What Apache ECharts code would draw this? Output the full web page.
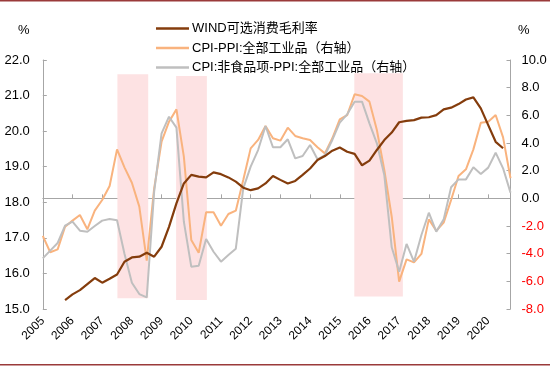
<!DOCTYPE html>
<html><head><meta charset="utf-8">
<script src="https://cdn.jsdelivr.net/npm/echarts@6/dist/echarts.min.js"></script>
<style>html,body{margin:0;padding:0;background:#fff}#c{width:550px;height:366px}</style>
</head><body><div id="c"></div>
<script>
// Quarterly categories 2005Q1 .. 2020Q4
const years = ['2005','2006','2007','2008','2009','2010','2011','2012','2013','2014','2015','2016','2017','2018','2019','2020'];
const quarters = ['Q1','Q2','Q3','Q4'];
const categories = [];
years.forEach(y => quarters.forEach(q => categories.push(y + q)));

// WIND可选消费毛利率 (left axis, %)
const grossMargin = [null,null,null,15.25,15.41,15.53,15.70,15.87,15.74,15.85,15.97,16.33,16.45,16.47,16.58,16.47,
  16.75,17.31,17.97,18.53,18.77,18.72,18.70,18.84,18.79,18.70,18.58,18.41,18.34,18.39,18.53,18.74,
  18.63,18.53,18.60,18.77,18.95,19.19,19.30,19.45,19.54,19.42,19.36,19.04,19.17,19.47,19.75,19.96,
  20.25,20.29,20.31,20.38,20.39,20.45,20.61,20.66,20.76,20.89,20.95,20.64,20.17,19.70,19.52,null];

// CPI-PPI:全部工业品 (right axis)
const cpiPpi = [-2.72,-3.90,-3.69,-2.05,-1.61,-1.20,-2.24,-0.89,-0.12,0.89,3.54,2.24,1.13,-0.60,-4.51,0.72,
  4.10,5.54,6.43,3.01,-3.01,-3.93,-1.01,-1.01,-1.98,-1.13,-0.89,1.33,3.61,4.22,5.23,4.34,
  4.17,5.11,4.51,4.34,4.22,3.69,3.25,4.34,5.71,6.02,7.52,7.40,6.99,4.94,2.05,-1.33,
  -6.02,-4.41,-4.63,-4.02,-1.52,-2.34,-1.76,-0.12,1.61,2.10,3.54,5.47,5.54,6.02,4.41,1.45];

// CPI:非食品项-PPI:全部工业品 (right axis)
const cpiNonFoodPpi = [-4.34,-3.78,-3.23,-1.98,-1.69,-2.34,-2.41,-2.00,-1.61,-1.49,-1.59,-4.00,-6.10,-6.92,-7.16,0.48,
  4.70,5.90,5.11,-1.69,-4.94,-4.87,-2.94,-3.86,-4.58,-4.10,-3.64,0.72,2.29,3.49,5.23,3.69,
  3.69,4.27,2.89,3.06,3.86,2.82,3.13,4.22,5.47,6.07,6.99,6.99,5.42,3.98,1.69,-3.54,
  -5.30,-3.30,-4.58,-2.65,-1.04,-2.41,-1.52,0.80,1.37,1.37,2.24,1.76,2.22,3.30,2.17,0.41];

// shaded periods: [start, end] in quarter-index units, top/bottom on left axis
const bands = [[10.05, 14.2, 21.6, 15.3], [17.96, 22.1, 21.55, 15.25], [41.96, 48.5, 21.63, 15.35]];

const leftTicks = {min: 15, max: 22, interval: 1};
const rightTicks = {min: -8, max: 10, interval: 2};

const names = ['WIND可选消费毛利率', 'CPI-PPI:全部工业品（右轴）', 'CPI:非食品项-PPI:全部工业品（右轴）'];
const font = 'Liberation Sans, Arial, Noto Sans CJK SC, sans-serif';
const axisCol = '#A6A6A6';

const chart = echarts.init(document.getElementById('c'), null, {renderer: 'canvas'});
chart.setOption({
  animation: false,
  textStyle: {fontFamily: font},
  grid: {left: 42.8, right: 39.5, top: 60, bottom: 57},
  legend: {
    data: names, orient: 'vertical', left: 151, top: 17,
    itemWidth: 33, itemHeight: 2.5, itemGap: 6.5, icon: 'rect',
    textStyle: {fontSize: 13, color: '#000', fontFamily: font, padding: [0,0,0,-2]}
  },
  xAxis: [{
    type: 'category', data: categories, boundaryGap: false,
    axisLine: {lineStyle: {color: axisCol, width: 1}},
    axisTick: {inside: true, length: 4, interval: 3, lineStyle: {color: axisCol}},
    axisLabel: {interval: 3, rotate: 45, fontSize: 12, color: '#000', margin: 10,
      formatter: v => v.slice(0, 4)},
    splitLine: {show: false}
  }, {
    type: 'value', min: 0, max: categories.length - 1, show: false
  }],
  yAxis: [{
    type: 'value', min: leftTicks.min, max: leftTicks.max, interval: leftTicks.interval,
    axisLine: {show: true, lineStyle: {color: axisCol}},
    axisTick: {show: true, inside: true, length: 4, lineStyle: {color: axisCol}},
    axisLabel: {fontSize: 13, color: '#000', margin: 13, formatter: v => v.toFixed(1)},
    splitLine: {show: false}
  }, {
    type: 'value', min: rightTicks.min, max: rightTicks.max, interval: rightTicks.interval,
    position: 'right',
    axisLine: {show: true, lineStyle: {color: axisCol}},
    axisTick: {show: true, inside: true, length: 4, lineStyle: {color: axisCol}},
    axisLabel: {fontSize: 13, margin: 11, formatter: v => v.toFixed(1),
      color: v => (Number(v) < 0 ? '#FF0000' : '#000')},
    splitLine: {show: false}
  }],
  graphic: [
    {type: 'rect', shape: {x: 0, y: 0, width: 550, height: 1.5}, style: {fill: '#9A3A3A'}},
    {type: 'rect', shape: {x: 0, y: 364, width: 550, height: 1.5}, style: {fill: '#9A3A3A'}},
    {type: 'text', left: 18, top: 24, style: {text: '%', fontSize: 13, fill: '#000', font: '13px Liberation Sans'}},
    {type: 'text', left: 518, top: 24, style: {text: '%', fontSize: 13, fill: '#000', font: '13px Liberation Sans'}}
  ],
  series: [
    {
      name: 'bands', type: 'line', xAxisIndex: 1, yAxisIndex: 0, data: [], silent: true,
      markArea: {silent: true, itemStyle: {color: '#FDE2E3'},
        data: bands.map(b => [{coord: [b[0], b[2]]}, {coord: [b[1], b[3]]}])}
    },
    {name: names[1], type: 'line', data: cpiPpi, yAxisIndex: 1, symbol: 'none', z: 3,
      lineStyle: {color: '#F9B37E', width: 2}, itemStyle: {color: '#F9B37E'}},
    {name: names[2], type: 'line', data: cpiNonFoodPpi, yAxisIndex: 1, symbol: 'none', z: 3,
      lineStyle: {color: '#BFBFBF', width: 2}, itemStyle: {color: '#BFBFBF'}},
    {name: names[0], type: 'line', data: grossMargin, yAxisIndex: 0, symbol: 'none', z: 4,
      lineStyle: {color: '#843C0C', width: 2.2}, itemStyle: {color: '#843C0C'}}
  ]
});
</script></body></html>
